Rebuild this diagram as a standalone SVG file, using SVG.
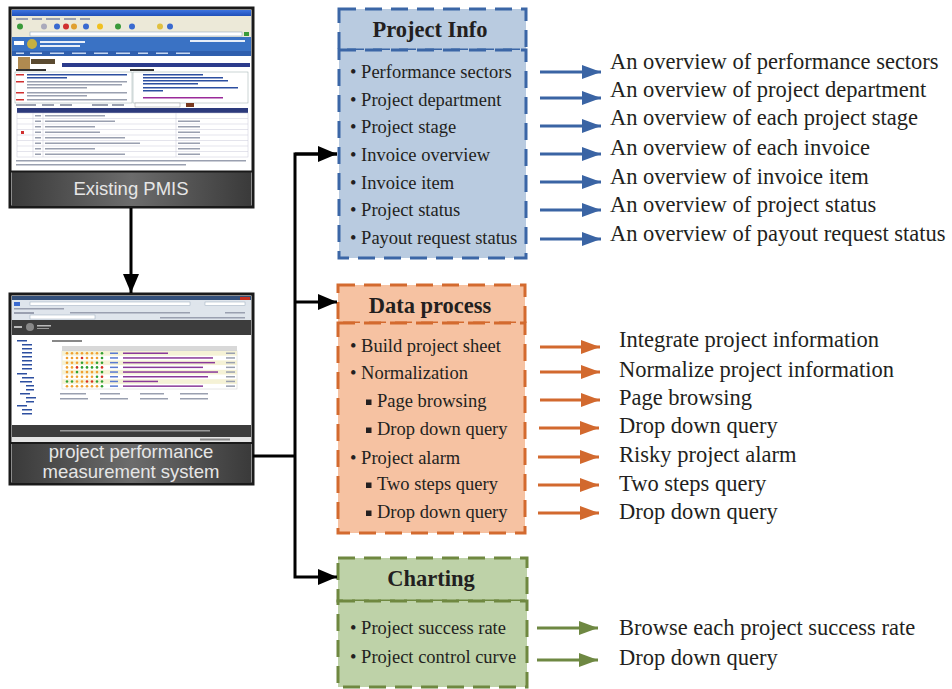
<svg xmlns="http://www.w3.org/2000/svg" width="952" height="689" viewBox="0 0 952 689">
<defs>
<style>
.t{font-family:"Liberation Serif","Times New Roman",serif;fill:#231f20}
.item{font-size:18.5px}
.out{font-size:22.5px}
.ttl{font-size:22.5px;font-weight:bold;text-anchor:middle}
.cap{font-family:"Liberation Sans",Arial,sans-serif;fill:#e6e6e6;text-anchor:middle;font-size:18.5px}
.pi{fill:#b9cbe0;stroke:#3b66a6;stroke-width:3;stroke-dasharray:17 9}
.dp{fill:#f6c2a2;stroke:#d36a2f;stroke-width:3;stroke-dasharray:17 9}
.ch{fill:#bed2a8;stroke:#6f8840;stroke-width:3;stroke-dasharray:17 9}
.ab{stroke:#3a64a4;stroke-width:3;fill:none}
.ao{stroke:#d2692e;stroke-width:3;fill:none}
.ag{stroke:#6e8842;stroke-width:3;fill:none}
.conn{stroke:#000;stroke-width:3;fill:none}
.ln{fill:#9aa0b0}
.bl{fill:#2d4fa0}
</style>
<marker id="mb" markerUnits="userSpaceOnUse" markerWidth="20" markerHeight="14" refX="19" refY="7" orient="auto"><path d="M0,0 L19,7 L0,14 Z" fill="#3a64a4"/></marker>
<marker id="mo" markerUnits="userSpaceOnUse" markerWidth="20" markerHeight="14" refX="19" refY="7" orient="auto"><path d="M0,0 L19,7 L0,14 Z" fill="#d2692e"/></marker>
<marker id="mg" markerUnits="userSpaceOnUse" markerWidth="20" markerHeight="14" refX="19" refY="7" orient="auto"><path d="M0,0 L19,7 L0,14 Z" fill="#6e8842"/></marker>
<marker id="mk" markerUnits="userSpaceOnUse" markerWidth="20" markerHeight="16" refX="19" refY="8" orient="auto"><path d="M0,0 L19,8 L0,16 Z" fill="#000"/></marker>
<linearGradient id="band" x1="0" y1="0" x2="1" y2="0">
<stop offset="0" stop-color="#3a3a3a"/><stop offset="0.5" stop-color="#6c6c6c"/><stop offset="1" stop-color="#3a3a3a"/>
</linearGradient>
<linearGradient id="tb" x1="0" y1="0" x2="0" y2="1">
<stop offset="0" stop-color="#3d74e0"/><stop offset="1" stop-color="#1f4fb8"/>
</linearGradient>
</defs>
<rect width="952" height="689" fill="#fff"/>

<!-- Existing PMIS node -->
<g id="existing-pmis">
<rect x="10" y="8" width="243" height="199" fill="#fff" stroke="#1a1a1a" stroke-width="3"/>
<rect x="12" y="10" width="239" height="6" fill="url(#tb)"/>
<rect x="12" y="16" width="239" height="6" fill="#ece9d8"/>
<g class="ln"><rect x="16" y="18" width="12" height="2"/><rect x="32" y="18" width="10" height="2"/><rect x="46" y="18" width="14" height="2"/><rect x="64" y="18" width="12" height="2"/><rect x="80" y="18" width="10" height="2"/></g>
<rect x="12" y="22" width="239" height="9" fill="#ece9d8"/>
<circle cx="20" cy="26.5" r="3" fill="#3a9a3a"/><circle cx="44" cy="26.5" r="3" fill="#aab"/><circle cx="57" cy="26.5" r="3" fill="#3a6ad0"/><circle cx="66" cy="26.5" r="3" fill="#d03030"/><circle cx="74" cy="26.5" r="3" fill="#e0a030"/><circle cx="86" cy="26.5" r="3" fill="#3a6ad0"/><circle cx="100" cy="26.5" r="3" fill="#f0c020"/><circle cx="118" cy="26.5" r="3" fill="#3a9a3a"/><circle cx="132" cy="26.5" r="3" fill="#3a6ad0"/><circle cx="160" cy="26.5" r="3" fill="#e0c040"/><circle cx="170" cy="26.5" r="3" fill="#3a6ad0"/>
<rect x="12" y="31" width="239" height="6" fill="#ece9d8"/>
<rect x="30" y="32" width="212" height="4" fill="#fff" stroke="#7f9db9" stroke-width="0.5"/>
<rect x="244" y="32" width="5" height="4" fill="#3a9a3a"/>
<rect x="12" y="37" width="239" height="14" fill="#3a72c4"/>
<circle cx="32" cy="44" r="5" fill="#c8b040"/>
<rect x="14" y="41" width="10" height="4" fill="#fff"/>
<rect x="40" y="41" width="45" height="2" fill="#e8eef8"/><rect x="40" y="45" width="40" height="2" fill="#e8eef8"/>
<rect x="190" y="40" width="55" height="2" fill="#e8eef8"/>
<rect x="12" y="51" width="239" height="5" fill="#2f5fae"/>
<g fill="#c8d8f0"><rect x="16" y="52.5" width="8" height="1.5"/><rect x="30" y="52.5" width="12" height="1.5"/><rect x="50" y="52.5" width="14" height="1.5"/><rect x="72" y="52.5" width="14" height="1.5"/><rect x="94" y="52.5" width="14" height="1.5"/><rect x="116" y="52.5" width="14" height="1.5"/><rect x="138" y="52.5" width="10" height="1.5"/><rect x="156" y="52.5" width="12" height="1.5"/><rect x="176" y="52.5" width="14" height="1.5"/></g>
<rect x="18" y="57" width="12" height="12" fill="#b08a50"/><rect x="31" y="59" width="24" height="5" fill="#5a4a30"/>
<rect x="62" y="63" width="188" height="4" fill="#2b3b8c"/>
<rect x="16" y="69" width="30" height="2" fill="#333"/><rect x="130" y="69" width="24" height="2" fill="#333"/>
<rect x="15" y="72" width="117" height="31" fill="#fff" stroke="#9aa" stroke-width="0.5"/>
<g fill="#d03030"><rect x="16" y="74" width="8" height="1.5"/><rect x="16" y="81" width="8" height="1.5"/><rect x="16" y="92" width="8" height="1.5"/><rect x="16" y="99" width="8" height="1.5"/></g>
<g class="bl"><rect x="27" y="74" width="100" height="1.5"/><rect x="27" y="77" width="40" height="1.5"/></g>
<g class="ln"><rect x="27" y="81" width="100" height="1.5"/><rect x="27" y="84" width="95" height="1.5"/><rect x="27" y="87" width="60" height="1.5"/><rect x="27" y="92" width="100" height="1.5"/><rect x="27" y="95" width="60" height="1.5"/><rect x="27" y="99" width="100" height="1.5"/></g>
<rect x="133" y="72" width="115" height="31" fill="#fff" stroke="#9aa" stroke-width="0.5"/>
<g class="bl"><rect x="143" y="74" width="60" height="1.5"/><rect x="143" y="77" width="80" height="1.5"/><rect x="143" y="80" width="85" height="1.5"/><rect x="143" y="83" width="55" height="1.5"/><rect x="143" y="87" width="95" height="1.5"/><rect x="143" y="90" width="20" height="1.5"/></g>
<rect x="143" y="97" width="80" height="1.5" fill="#9a2a9a"/>
<g class="ln"><rect x="16" y="104" width="20" height="2"/><rect x="42" y="104" width="12" height="2"/><rect x="60" y="104" width="12" height="2"/><rect x="92" y="104" width="16" height="2"/><rect x="112" y="104" width="12" height="2"/></g>
<rect x="135" y="103" width="45" height="4" fill="#fff" stroke="#999" stroke-width="0.5"/><rect x="186" y="103" width="8" height="4" fill="#7a3a20"/>
<rect x="17" y="108" width="231" height="5" fill="#2c3a7c"/>
<g stroke="#c8c8d8" stroke-width="0.5" fill="none">
<rect x="17" y="113" width="231" height="44"/>
<line x1="17" y1="118.5" x2="248" y2="118.5"/><line x1="17" y1="124" x2="248" y2="124"/><line x1="17" y1="129.5" x2="248" y2="129.5"/><line x1="17" y1="135" x2="248" y2="135"/><line x1="17" y1="140.5" x2="248" y2="140.5"/><line x1="17" y1="146" x2="248" y2="146"/><line x1="17" y1="151.5" x2="248" y2="151.5"/>
<line x1="33" y1="113" x2="33" y2="157"/><line x1="43" y1="113" x2="43" y2="157"/><line x1="176" y1="113" x2="176" y2="157"/>
</g>
<rect x="21" y="131" width="3" height="3" fill="#d03030"/>
<g class="ln"><rect x="35" y="115" width="6" height="1.5"/><rect x="35" y="120.5" width="6" height="1.5"/><rect x="35" y="126" width="6" height="1.5"/><rect x="35" y="131.5" width="6" height="1.5"/><rect x="35" y="137" width="6" height="1.5"/><rect x="35" y="142.5" width="6" height="1.5"/><rect x="35" y="148" width="6" height="1.5"/><rect x="35" y="153.5" width="6" height="1.5"/>
<rect x="45" y="115" width="60" height="1.5"/><rect x="45" y="120.5" width="70" height="1.5"/><rect x="45" y="126" width="50" height="1.5"/><rect x="45" y="131.5" width="55" height="1.5"/><rect x="45" y="137" width="80" height="1.5"/><rect x="45" y="142.5" width="95" height="1.5"/><rect x="45" y="148" width="50" height="1.5"/><rect x="45" y="153.5" width="80" height="1.5"/>
<rect x="178" y="120.5" width="22" height="1.5"/><rect x="178" y="126" width="22" height="1.5"/><rect x="178" y="131.5" width="22" height="1.5"/><rect x="178" y="137" width="22" height="1.5"/><rect x="178" y="142.5" width="22" height="1.5"/><rect x="178" y="148" width="22" height="1.5"/><rect x="178" y="153.5" width="22" height="1.5"/>
<rect x="16" y="160" width="230" height="1.5"/><rect x="16" y="164" width="170" height="1.5"/></g>
<rect x="12" y="172" width="239" height="34" fill="url(#band)"/>
<line x1="11" y1="171.5" x2="252" y2="171.5" stroke="#1a1a1a" stroke-width="2"/>
<text class="cap" x="131" y="195">Existing PMIS</text>
</g>

<!-- project performance measurement system node -->
<g id="ppms">
<rect x="10" y="294" width="243" height="190" fill="#fff" stroke="#1a1a1a" stroke-width="3"/>
<rect x="12" y="296" width="239" height="4" fill="#34507a"/>
<rect x="12" y="300" width="239" height="20" fill="#dfe5ec"/>
<rect x="14" y="302" width="6" height="4" fill="#3a6ad0"/><rect x="30" y="302" width="160" height="3.5" fill="#fff" stroke="#9ab" stroke-width="0.5"/><rect x="205" y="302" width="40" height="3.5" fill="#fff" stroke="#9ab" stroke-width="0.5"/>
<g class="ln"><rect x="14" y="308" width="50" height="1.5"/><rect x="14" y="312" width="20" height="2"/><rect x="70" y="312" width="120" height="1.5"/><rect x="225" y="312" width="20" height="1.5"/><rect x="160" y="317" width="85" height="1.5"/></g>
<rect x="30" y="315" width="65" height="4" fill="#fff" stroke="#9ab" stroke-width="0.5"/>
<rect x="240" y="297" width="10" height="3" fill="#c83020"/>
<rect x="12" y="320" width="239" height="15" fill="#3c3c3c"/>
<circle cx="30" cy="327" r="4" fill="#888"/><rect x="14" y="326" width="8" height="2" fill="#bbb"/><rect x="37" y="325" width="14" height="1.5" fill="#bbb"/><rect x="37" y="328" width="12" height="1" fill="#999"/>
<rect x="12" y="335" width="239" height="90" fill="#fff"/>
<g class="bl"><rect x="17" y="340" width="10" height="1.5"/><rect x="22" y="344" width="10" height="1.5"/><rect x="22" y="348" width="10" height="1.5"/><rect x="22" y="352" width="10" height="1.5"/><rect x="22" y="356" width="10" height="1.5"/><rect x="22" y="360" width="10" height="1.5"/><rect x="22" y="364" width="10" height="1.5"/><rect x="22" y="368" width="10" height="1.5"/><rect x="17" y="373" width="10" height="1.5"/><rect x="22" y="377" width="12" height="1.5"/><rect x="20" y="381" width="12" height="1.5"/><rect x="26" y="385" width="8" height="1.5"/><rect x="26" y="389" width="8" height="1.5"/><rect x="20" y="393" width="10" height="1.5"/><rect x="26" y="397" width="10" height="1.5"/><rect x="26" y="401" width="8" height="1.5"/><rect x="17" y="405" width="10" height="1.5"/><rect x="22" y="409" width="10" height="1.5"/><rect x="22" y="413" width="10" height="1.5"/></g>
<rect x="52" y="340" width="30" height="2" fill="#888"/>
<rect x="62" y="346" width="175" height="5" fill="#d8d8d8"/>
<rect x="62" y="351" width="175" height="38" fill="#fff" stroke="#ccc" stroke-width="0.5"/>
<g fill="#f5f2d6"><rect x="62" y="351" width="175" height="4.7"/><rect x="62" y="360.4" width="175" height="4.7"/><rect x="62" y="369.8" width="175" height="4.7"/><rect x="62" y="379.2" width="175" height="4.7"/></g>
<g id="dots">
<g fill="#f0a030"><circle cx="67" cy="353.3" r="1.3"/><circle cx="72" cy="353.3" r="1.3"/><circle cx="77" cy="353.3" r="1.3"/><circle cx="82" cy="353.3" r="1.3"/><circle cx="87" cy="353.3" r="1.3"/><circle cx="92" cy="353.3" r="1.3"/><circle cx="97" cy="353.3" r="1.3"/>
<circle cx="67" cy="358" r="1.3"/><circle cx="72" cy="358" r="1.3"/><circle cx="77" cy="358" r="1.3"/><circle cx="87" cy="358" r="1.3"/><circle cx="92" cy="358" r="1.3"/><circle cx="97" cy="358" r="1.3"/>
<circle cx="67" cy="362.7" r="1.3"/><circle cx="72" cy="362.7" r="1.3"/><circle cx="77" cy="362.7" r="1.3"/><circle cx="87" cy="362.7" r="1.3"/><circle cx="92" cy="362.7" r="1.3"/>
<circle cx="67" cy="367.4" r="1.3"/><circle cx="72" cy="367.4" r="1.3"/>
<circle cx="67" cy="372.1" r="1.3"/><circle cx="72" cy="372.1" r="1.3"/><circle cx="82" cy="372.1" r="1.3"/><circle cx="87" cy="372.1" r="1.3"/><circle cx="92" cy="372.1" r="1.3"/><circle cx="97" cy="372.1" r="1.3"/>
<circle cx="67" cy="376.8" r="1.3"/><circle cx="72" cy="376.8" r="1.3"/><circle cx="77" cy="376.8" r="1.3"/><circle cx="82" cy="376.8" r="1.3"/><circle cx="87" cy="376.8" r="1.3"/><circle cx="92" cy="376.8" r="1.3"/>
<circle cx="77" cy="381.5" r="1.3"/><circle cx="82" cy="381.5" r="1.3"/>
<circle cx="67" cy="386.2" r="1.3"/><circle cx="72" cy="386.2" r="1.3"/><circle cx="77" cy="386.2" r="1.3"/><circle cx="82" cy="386.2" r="1.3"/><circle cx="87" cy="386.2" r="1.3"/><circle cx="92" cy="386.2" r="1.3"/><circle cx="97" cy="386.2" r="1.3"/></g>
<g fill="#d83020"><circle cx="77" cy="367.4" r="1.3"/><circle cx="102" cy="367.4" r="1.3"/><circle cx="82" cy="358" r="1.3"/><circle cx="102" cy="376.8" r="1.3"/><circle cx="87" cy="381.5" r="1.3"/><circle cx="92" cy="381.5" r="1.3"/></g>
<g fill="#30a030"><circle cx="102" cy="353.3" r="1.3"/><circle cx="102" cy="358" r="1.3"/><circle cx="82" cy="362.7" r="1.3"/><circle cx="97" cy="362.7" r="1.3"/><circle cx="102" cy="362.7" r="1.3"/><circle cx="82" cy="367.4" r="1.3"/><circle cx="87" cy="367.4" r="1.3"/><circle cx="92" cy="367.4" r="1.3"/><circle cx="97" cy="367.4" r="1.3"/><circle cx="77" cy="372.1" r="1.3"/><circle cx="102" cy="372.1" r="1.3"/><circle cx="97" cy="376.8" r="1.3"/><circle cx="67" cy="381.5" r="1.3"/><circle cx="72" cy="381.5" r="1.3"/><circle cx="97" cy="381.5" r="1.3"/><circle cx="102" cy="381.5" r="1.3"/><circle cx="102" cy="386.2" r="1.3"/></g>
</g>
<g fill="#5a7ad0"><rect x="110" y="352.5" width="8" height="1.5"/><rect x="110" y="357.2" width="8" height="1.5"/><rect x="110" y="361.9" width="8" height="1.5"/><rect x="110" y="366.6" width="8" height="1.5"/><rect x="110" y="371.3" width="8" height="1.5"/><rect x="110" y="376" width="8" height="1.5"/><rect x="110" y="380.7" width="8" height="1.5"/><rect x="110" y="385.4" width="8" height="1.5"/></g>
<g fill="#8a3a9a"><rect x="123" y="352.5" width="45" height="1.5"/><rect x="123" y="357.2" width="90" height="1.5"/><rect x="123" y="361.9" width="92" height="1.5"/><rect x="123" y="366.6" width="80" height="1.5"/><rect x="123" y="371.3" width="95" height="1.5"/><rect x="123" y="376" width="85" height="1.5"/><rect x="123" y="380.7" width="35" height="1.5"/><rect x="123" y="385.4" width="80" height="1.5"/></g>
<g class="ln"><rect x="226" y="352.5" width="9" height="1.5"/><rect x="226" y="357.2" width="9" height="1.5"/><rect x="226" y="361.9" width="9" height="1.5"/><rect x="226" y="366.6" width="9" height="1.5"/><rect x="226" y="371.3" width="9" height="1.5"/><rect x="226" y="376" width="9" height="1.5"/><rect x="226" y="380.7" width="9" height="1.5"/><rect x="226" y="385.4" width="9" height="1.5"/>
<rect x="60" y="393" width="26" height="1.5"/><rect x="100" y="393" width="20" height="1.5"/><rect x="140" y="393" width="24" height="1.5"/><rect x="180" y="393" width="28" height="1.5"/>
<rect x="60" y="398" width="28" height="1.5"/><rect x="100" y="398" width="28" height="1.5"/><rect x="140" y="398" width="28" height="1.5"/><rect x="180" y="398" width="28" height="1.5"/></g>
<rect x="12" y="425" width="239" height="12" fill="#3c3c3c"/>
<rect x="60" y="430" width="150" height="1.5" fill="#999"/>
<rect x="12" y="437" width="239" height="6" fill="#e4e4e4"/>
<rect x="200" y="438.5" width="30" height="2" fill="#888"/>
<rect x="12" y="443" width="239" height="40" fill="url(#band)"/>
<line x1="11" y1="443" x2="252" y2="443" stroke="#1a1a1a" stroke-width="2"/>
<text class="cap" x="131" y="458">project performance</text>
<text class="cap" x="131" y="477.5">measurement system</text>
</g>

<!-- Project Info node -->
<g id="project-info">
<rect class="pi" x="339" y="9" width="187" height="41"/>
<rect class="pi" x="339" y="50" width="187" height="208"/>
<text class="t ttl" x="430" y="37">Project Info</text>
<g class="t item">
<text x="350" y="78">• Performance sectors</text>
<text x="350" y="106">• Project department</text>
<text x="350" y="133">• Project stage</text>
<text x="350" y="161">• Invoice overview</text>
<text x="350" y="189">• Invoice item</text>
<text x="350" y="216">• Project status</text>
<text x="350" y="244">• Payout request status</text>
</g>
</g>

<!-- Data process node -->
<g id="data-process">
<rect class="dp" x="338" y="285" width="187" height="38"/>
<rect class="dp" x="338" y="323" width="187" height="210"/>
<text class="t ttl" x="430" y="313">Data process</text>
<g fill="#231f20"><rect x="366" y="399.5" width="5.5" height="5.5"/><rect x="366" y="427.5" width="5.5" height="5.5"/><rect x="366" y="482.5" width="5.5" height="5.5"/><rect x="366" y="510.5" width="5.5" height="5.5"/></g>
<g class="t item">
<text x="350" y="352">• Build project sheet</text>
<text x="350" y="379">• Normalization</text>
<text x="377" y="407">Page browsing</text>
<text x="377" y="435">Drop down query</text>
<text x="350" y="464">• Project alarm</text>
<text x="377" y="490">Two steps query</text>
<text x="377" y="518">Drop down query</text>
</g>
</g>

<!-- Charting node -->
<g id="charting">
<rect class="ch" x="338" y="558" width="189" height="43"/>
<rect class="ch" x="338" y="601" width="189" height="86"/>
<text class="t ttl" x="431" y="586">Charting</text>
<g class="t item">
<text x="350" y="634">• Project success rate</text>
<text x="350" y="663">• Project control curve</text>
</g>
</g>

<!-- Output labels -->
<g id="outputs" class="t out">
<text x="610" y="69">An overview of performance sectors</text>
<text x="610" y="97">An overview of project department</text>
<text x="610" y="125">An overview of each project stage</text>
<text x="610" y="155">An overview of each invoice</text>
<text x="610" y="184">An overview of invoice item</text>
<text x="610" y="212">An overview of project status</text>
<text x="610" y="241">An overview of payout request status</text>
<text x="619" y="347">Integrate project information</text>
<text x="619" y="377">Normalize project information</text>
<text x="619" y="405">Page browsing</text>
<text x="619" y="433">Drop down query</text>
<text x="619" y="462">Risky project alarm</text>
<text x="619" y="491">Two steps query</text>
<text x="619" y="519">Drop down query</text>
<text x="619" y="635">Browse each project success rate</text>
<text x="619" y="665">Drop down query</text>
</g>

<!-- Connectors -->
<g id="connectors">
<line class="conn" x1="131" y1="208" x2="131" y2="293" marker-end="url(#mk)"/>
<polyline class="conn" points="253,456 295,456"/>
<polyline class="conn" points="337,154 295,154 295,577 337,577" marker-end="url(#mk)"/>
<line class="conn" x1="295" y1="154" x2="337" y2="154" marker-end="url(#mk)"/>
<line class="conn" x1="295" y1="302" x2="337" y2="302" marker-end="url(#mk)"/>
<g class="ab">
<line x1="540" y1="72" x2="601" y2="72" marker-end="url(#mb)"/>
<line x1="540" y1="98" x2="601" y2="98" marker-end="url(#mb)"/>
<line x1="540" y1="126" x2="601" y2="126" marker-end="url(#mb)"/>
<line x1="540" y1="154" x2="601" y2="154" marker-end="url(#mb)"/>
<line x1="540" y1="182" x2="601" y2="182" marker-end="url(#mb)"/>
<line x1="540" y1="210" x2="601" y2="210" marker-end="url(#mb)"/>
<line x1="540" y1="239" x2="601" y2="239" marker-end="url(#mb)"/>
</g>
<g class="ao">
<line x1="540" y1="347" x2="600" y2="347" marker-end="url(#mo)"/>
<line x1="540" y1="372" x2="600" y2="372" marker-end="url(#mo)"/>
<line x1="540" y1="400" x2="600" y2="400" marker-end="url(#mo)"/>
<line x1="539" y1="428" x2="599" y2="428" marker-end="url(#mo)"/>
<line x1="538" y1="457" x2="599" y2="457" marker-end="url(#mo)"/>
<line x1="538" y1="485" x2="599" y2="485" marker-end="url(#mo)"/>
<line x1="538" y1="513" x2="599" y2="513" marker-end="url(#mo)"/>
</g>
<g class="ag">
<line x1="537" y1="628" x2="598" y2="628" marker-end="url(#mg)"/>
<line x1="537" y1="660" x2="598" y2="660" marker-end="url(#mg)"/>
</g>
</g>
</svg>
